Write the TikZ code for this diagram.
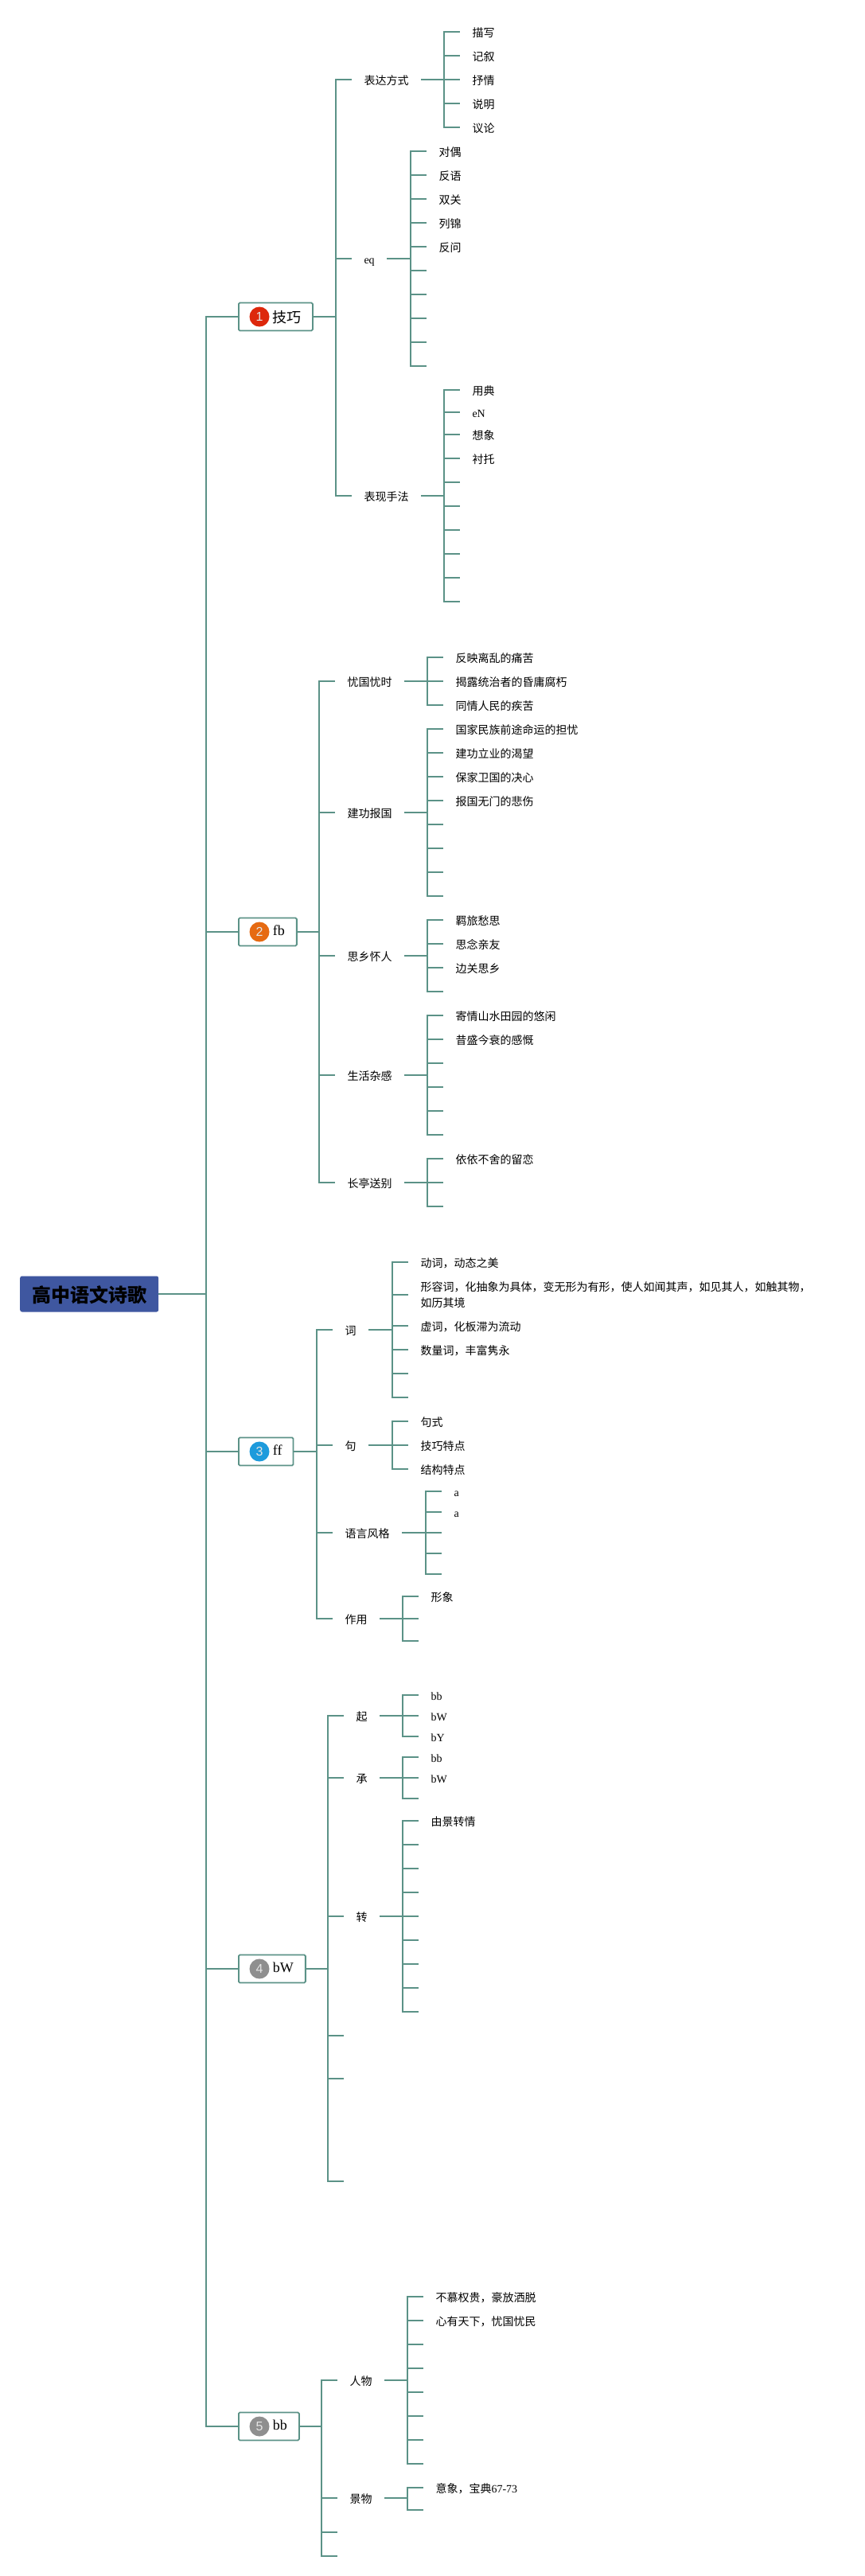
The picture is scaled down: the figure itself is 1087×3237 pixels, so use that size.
\documentclass[tikz,border=0pt]{standalone}
\usepackage{fontspec}
\setmainfont{Noto Sans CJK SC}
\newfontfamily\latf{Liberation Serif}
\newfontfamily\sansf{Liberation Sans}
\definecolor{linec}{RGB}{91,146,135}
\definecolor{rootc}{RGB}{63,87,160}
\definecolor{bred}{RGB}{221,40,12}
\definecolor{bora}{RGB}{230,106,18}
\definecolor{bblu}{RGB}{30,155,220}
\definecolor{bgry}{RGB}{143,143,143}
\tikzset{
  conn/.style={draw=linec,line width=2pt},
  leafn/.style={anchor=west,inner xsep=15.3pt,inner ysep=0pt,text height=13pt,text depth=0pt,font=\fontsize{14}{20}\selectfont,text=black},
  longn/.style={anchor=west,inner xsep=15.3pt,inner ysep=0pt,align=left,font=\fontsize{14}{20}\selectfont,text=black},
  topicn/.style={anchor=west,draw=linec,line width=1.8pt,fill=white,rounded corners=1.5pt,inner xsep=0pt,inner ysep=0pt,minimum height=35pt,text height=11.5pt,text depth=2.5pt,font=\fontsize{18}{22}\selectfont,text=black},
  badgen/.style={circle,inner sep=0pt,minimum size=25pt,text=white!90!black,font=\sansf\fontsize{16}{16}\selectfont},
  rootn/.style={anchor=west,fill=rootc,rounded corners=2.5pt,inner xsep=0pt,inner ysep=0pt,minimum width=174pt,minimum height=45pt,text height=22pt,text depth=1pt,font=\bfseries\fontsize{24}{28}\selectfont,text=black}
}
\newcommand{\lf}[4]{\node[leafn] (#1) at (#2,#3) {#4};}
\newcommand{\bl}[3]{\coordinate (#1) at (#2,#3);}
\newcommand{\fan}[3]{\foreach \c in {#3} {\draw[conn] (#1.east) -- (#1.east -| #2) |- (\c);}}
\begin{document}
\begin{tikzpicture}[x=1pt,y=-1pt]
\useasboundingbox[fill=white] (0,0) rectangle (1087,3237);
% spine positions
\coordinate (s0) at (259,0);
\coordinate (s1) at (422,0);
\coordinate (s2) at (401,0);
\coordinate (s3) at (398,0);
\coordinate (s4) at (412,0);
\coordinate (s5) at (404,0);
\coordinate (sa) at (558,0);
\coordinate (sb) at (516,0);
\coordinate (sc) at (558,0);
\coordinate (sd) at (537,0);
\coordinate (se) at (493,0);
\coordinate (sf) at (535,0);
\coordinate (sg) at (506,0);
\coordinate (sh) at (506,0);
\coordinate (si) at (512,0);
% root and topics
\node[rootn] (root) at (25,1626) {高中语文诗歌};
\node[topicn] (t1) at (299,398) {\hspace*{43pt}\raisebox{-2.5pt}{技巧}\hspace*{14pt}};
\node[topicn] (t2) at (299,1171) {\hspace*{43pt}{\latf fb}\hspace*{15pt}};
\node[topicn] (t3) at (299,1824) {\hspace*{43pt}{\latf ff}\hspace*{14pt}};
\node[topicn] (t4) at (299,2474) {\hspace*{43pt}{\latf bW}\hspace*{15pt}};
\node[topicn] (t5) at (299,3049) {\hspace*{43pt}{\latf bb}\hspace*{15pt}};
\node[badgen,fill=bred] (b1) at (326,398) {1};
\node[badgen,fill=bora] (b2) at (326,1171) {2};
\node[badgen,fill=bblu] (b3) at (326,1824) {3};
\node[badgen,fill=bgry] (b4) at (326,2474) {4};
\node[badgen,fill=bgry] (b5) at (326,3049) {5};
% topic 1
\lf{p1}{442}{100}{表达方式}
\lf{p2}{442}{325}{\latf eq}
\lf{p3}{442}{623}{表现手法}
\lf{a1}{578}{40}{描写}
\lf{a2}{578}{70}{记叙}
\lf{a3}{578}{100}{抒情}
\lf{a4}{578}{130}{说明}
\lf{a5}{578}{160}{议论}
\lf{b1n}{536}{190}{对偶}
\lf{b2n}{536}{220}{反语}
\lf{b3n}{536}{250}{双关}
\lf{b4n}{536}{280}{列锦}
\lf{b5n}{536}{310}{反问}
\bl{b6n}{536}{340}
\bl{b7n}{536}{370}
\bl{b8n}{536}{400}
\bl{b9n}{536}{430}
\bl{b10n}{536}{460}
\lf{c1}{578}{490}{用典}
\lf{c2}{578}{518}{\latf eN}
\lf{c3}{578}{546}{想象}
\lf{c4}{578}{576}{衬托}
\bl{c5}{578}{606}
\bl{c6}{578}{636}
\bl{c7}{578}{666}
\bl{c8}{578}{696}
\bl{c9}{578}{726}
\bl{c10}{578}{756}
% topic 2
\lf{q1}{421}{856}{忧国忧时}
\lf{q2}{421}{1021}{建功报国}
\lf{q3}{421}{1201}{思乡怀人}
\lf{q4}{421}{1351}{生活杂感}
\lf{q5}{421}{1486}{长亭送别}
\lf{d1}{557}{826}{反映离乱的痛苦}
\lf{d2}{557}{856}{揭露统治者的昏庸腐朽}
\lf{d3}{557}{886}{同情人民的疾苦}
\lf{d4}{557}{916}{国家民族前途命运的担忧}
\lf{d5}{557}{946}{建功立业的渴望}
\lf{d6}{557}{976}{保家卫国的决心}
\lf{d7}{557}{1006}{报国无门的悲伤}
\bl{d8}{557}{1036}
\bl{d9}{557}{1066}
\bl{d10}{557}{1096}
\bl{d11}{557}{1126}
\lf{d12}{557}{1156}{羁旅愁思}
\lf{d13}{557}{1186}{思念亲友}
\lf{d14}{557}{1216}{边关思乡}
\bl{d15}{557}{1246}
\lf{d16}{557}{1276}{寄情山水田园的悠闲}
\lf{d17}{557}{1306}{昔盛今衰的感慨}
\bl{d18}{557}{1336}
\bl{d19}{557}{1366}
\bl{d20}{557}{1396}
\bl{d21}{557}{1426}
\lf{d22}{557}{1456}{依依不舍的留恋}
\bl{d23}{557}{1486}
\bl{d24}{557}{1516}
% topic 3
\lf{r1}{418}{1671}{词}
\lf{r2}{418}{1816}{句}
\lf{r3}{418}{1926}{语言风格}
\lf{r4}{418}{2034}{作用}
\lf{e1}{513}{1586}{动词，动态之美}
\node[longn] (e2) at (513,1627) {形容词，化抽象为具体，变无形为有形，使人如闻其声，如见其人，如触其物，\\如历其境};
\lf{e3}{513}{1666}{虚词，化板滞为流动}
\lf{e4}{513}{1696}{数量词，丰富隽永}
\bl{e5}{513}{1726}
\bl{e6}{513}{1756}
\lf{f1}{513}{1786}{句式}
\lf{f2}{513}{1816}{技巧特点}
\lf{f3}{513}{1846}{结构特点}
\lf{g1}{555}{1874}{\latf a}
\lf{g2}{555}{1900}{\latf a}
\bl{g3}{555}{1926}
\bl{g4}{555}{1952}
\bl{g5}{555}{1978}
\lf{h1}{526}{2006}{形象}
\bl{h2}{526}{2034}
\bl{h3}{526}{2062}
% topic 4
\lf{u1}{432}{2156}{起}
\lf{u2}{432}{2234}{承}
\lf{u3}{432}{2408}{转}
\bl{u4}{432}{2558}
\bl{u5}{432}{2612}
\bl{u6}{432}{2741}
\lf{i1}{526}{2130}{\latf bb}
\lf{i2}{526}{2156}{\latf bW}
\lf{i3}{526}{2182}{\latf bY}
\lf{j1}{526}{2208}{\latf bb}
\lf{j2}{526}{2234}{\latf bW}
\bl{j3}{526}{2260}
\lf{k1}{526}{2288}{由景转情}
\bl{k2}{526}{2318}
\bl{k3}{526}{2348}
\bl{k4}{526}{2378}
\bl{k5}{526}{2408}
\bl{k6}{526}{2438}
\bl{k7}{526}{2468}
\bl{k8}{526}{2498}
\bl{k9}{526}{2528}
% topic 5
\lf{v1}{424}{2991}{人物}
\lf{v2}{424}{3139}{景物}
\bl{v3}{424}{3182}
\bl{v4}{424}{3212}
\lf{m1}{532}{2886}{不慕权贵，豪放洒脱}
\lf{m2}{532}{2916}{心有天下，忧国忧民}
\bl{m3}{532}{2946}
\bl{m4}{532}{2976}
\bl{m5}{532}{3006}
\bl{m6}{532}{3036}
\bl{m7}{532}{3066}
\bl{m8}{532}{3096}
\lf{n1}{532}{3126}{意象，宝典{\latf 67-73}}
\bl{n2}{532}{3154}
% connectors
\fan{root}{s0}{t1,t2,t3,t4,t5}
\fan{t1}{s1}{p1,p2,p3}
\fan{t2}{s2}{q1,q2,q3,q4,q5}
\fan{t3}{s3}{r1,r2,r3,r4}
\fan{t4}{s4}{u1,u2,u3,u4,u5,u6}
\fan{t5}{s5}{v1,v2,v3,v4}
\fan{p1}{sa}{a1,a2,a3,a4,a5}
\fan{p2}{sb}{b1n,b2n,b3n,b4n,b5n,b6n,b7n,b8n,b9n,b10n}
\fan{p3}{sc}{c1,c2,c3,c4,c5,c6,c7,c8,c9,c10}
\fan{q1}{sd}{d1,d2,d3}
\fan{q2}{sd}{d4,d5,d6,d7,d8,d9,d10,d11}
\fan{q3}{sd}{d12,d13,d14,d15}
\fan{q4}{sd}{d16,d17,d18,d19,d20,d21}
\fan{q5}{sd}{d22,d23,d24}
\fan{r1}{se}{e1,e2,e3,e4,e5,e6}
\fan{r2}{se}{f1,f2,f3}
\fan{r3}{sf}{g1,g2,g3,g4,g5}
\fan{r4}{sg}{h1,h2,h3}
\fan{u1}{sh}{i1,i2,i3}
\fan{u2}{sh}{j1,j2,j3}
\fan{u3}{sh}{k1,k2,k3,k4,k5,k6,k7,k8,k9}
\fan{v1}{si}{m1,m2,m3,m4,m5,m6,m7,m8}
\fan{v2}{si}{n1,n2}
\end{tikzpicture}
\end{document}
